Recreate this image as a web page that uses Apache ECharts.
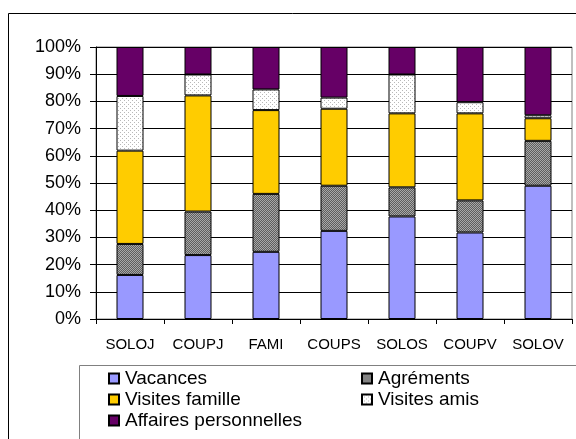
<!DOCTYPE html>
<html>
<head>
<meta charset="utf-8">
<script src="https://cdn.jsdelivr.net/npm/echarts@6/dist/echarts.min.js"></script>
<style>html,body{margin:0;padding:0;background:#fff;}#c{width:576px;height:439px;}</style>
</head>
<body>
<div id="c"></div>
<script>
var categories = ['SOLOJ', 'COUPJ', 'FAMI', 'COUPS', 'SOLOS', 'COUPV', 'SOLOV'];
var seriesNames = ['Vacances', 'Agréments', 'Visites famille', 'Visites amis', 'Affaires personnelles'];
var vacances = [16.2, 23.5, 24.7, 32.4, 37.7, 31.8, 49.0];
var agrements = [11.4, 16.0, 21.3, 16.6, 10.7, 11.8, 16.5];
var visitesFamille = [34.3, 42.7, 30.8, 28.3, 27.2, 32.0, 8.3];
var visitesAmis = [20.1, 7.7, 7.6, 4.1, 14.3, 4.1, 1.1];
var affaires = [18.0, 10.1, 15.6, 18.6, 10.1, 20.3, 25.1];
var yTicks = [0, 10, 20, 30, 40, 50, 60, 70, 80, 90, 100];

function makePattern(w, h, bg, fg, pts) {
  var cv = document.createElement('canvas');
  cv.width = w; cv.height = h;
  var ctx = cv.getContext('2d');
  ctx.fillStyle = bg; ctx.fillRect(0, 0, w, h);
  ctx.fillStyle = fg;
  pts.forEach(function (p) { ctx.fillRect(p[0], p[1], 1, 1); });
  return { image: cv, repeat: 'repeat' };
}
var agrPattern = makePattern(2, 2, '#5e5e5e', '#a8a8a8', [[0, 0], [1, 1]]);
var amisPattern = makePattern(4, 4, '#ffffff', '#b8b8b8', [[0, 0], [2, 2]]);

var colors = ['#9999FF', agrPattern, '#FFCC00', amisPattern, '#660066'];
var dataList = [vacances, agrements, visitesFamille, visitesAmis, affaires];
var font = "'Liberation Sans', Arial, sans-serif";

var series = seriesNames.map(function (n, i) {
  return {
    name: n, type: 'bar', stack: 'all', barWidth: 27,
    data: dataList[i],
    itemStyle: { color: colors[i], borderColor: '#000', borderWidth: 1 },
    emphasis: { disabled: true }
  };
});

var legendPos = [
  { left: 108, top: 369 }, { left: 361, top: 369 },
  { left: 108, top: 390 }, { left: 361, top: 390 },
  { left: 108, top: 411 }
];
var legends = seriesNames.map(function (n, i) {
  return {
    data: [n], left: legendPos[i].left, top: legendPos[i].top, padding: 0,
    itemWidth: 10, itemHeight: 10, itemGap: 0, icon: 'rect',
    selectedMode: false,
    textStyle: { fontFamily: font, fontSize: 19, color: '#000', padding: [0, 0, 0, 1] }
  };
});

var chart = echarts.init(document.getElementById('c'), null, { renderer: 'canvas' });
chart.setOption({
  animation: false,
  backgroundColor: '#fff',
  grid: { left: 96, right: 4, top: 47, bottom: 120, show: true, borderColor: '#808080', borderWidth: 1, backgroundColor: 'transparent' },
  legend: legends,
  xAxis: {
    type: 'category', data: categories,
    axisLine: { lineStyle: { color: '#000', width: 1 } },
    axisTick: { show: true, length: 5, alignWithLabel: false, interval: 0, lineStyle: { color: '#000' } },
    axisLabel: { fontFamily: font, fontSize: 15, color: '#000', margin: 18, interval: 0 }
  },
  yAxis: {
    type: 'value', min: yTicks[0], max: yTicks[yTicks.length - 1], interval: 10,
    axisLine: { show: true, lineStyle: { color: '#000', width: 1 } },
    axisTick: { show: true, length: 6, inside: false, lineStyle: { color: '#000' } },
    axisLabel: { fontFamily: font, fontSize: 18, color: '#000', margin: 15, formatter: '{value}%' },
    splitLine: { show: true, lineStyle: { color: '#000', width: 1 } }
  },
  graphic: [
    { type: 'rect', shape: { x: 8.5, y: 13.5, width: 600, height: 500 }, style: { fill: 'none', stroke: '#000', lineWidth: 1 }, silent: true, z: -1 },
    { type: 'rect', shape: { x: 79.5, y: 365.5, width: 600, height: 200 }, style: { fill: 'none', stroke: '#808080', lineWidth: 1 }, silent: true, z: -1 }
  ],
  series: series
});
</script>
</body>
</html>
